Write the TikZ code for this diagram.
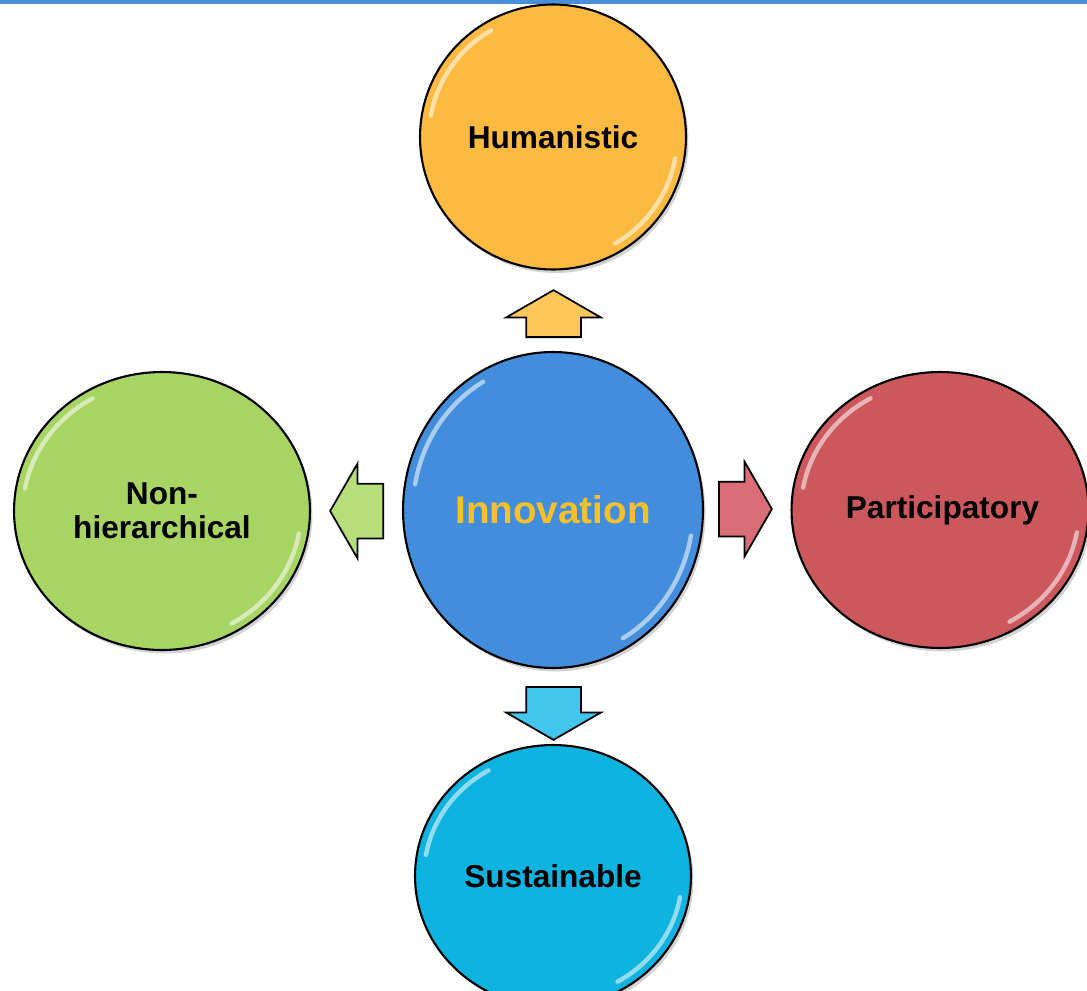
\documentclass[tikz,border=0pt]{standalone}
\usepackage{fontspec}
\setmainfont{Liberation Sans}
\usetikzlibrary{shapes.geometric,shapes.arrows,shadows}

\definecolor{topbar}{HTML}{4A90D9}
\definecolor{humancol}{HTML}{FDBA40}
\definecolor{innocol}{HTML}{428EDC}
\definecolor{nonhcol}{HTML}{A7D462}
\definecolor{partcol}{HTML}{CC575C}
\definecolor{sustcol}{HTML}{0EB3E0}
\definecolor{goldtext}{HTML}{F8C12C}
\definecolor{humarrow}{HTML}{FDC75C}
\definecolor{nonharrow}{HTML}{B8DE7B}
\definecolor{partarrow}{HTML}{D96E77}
\definecolor{sustarrow}{HTML}{43C6EC}

\tikzset{
  bubble/.style={ellipse, draw=black, line width=1.2pt, inner sep=0pt, align=center,
    font=\bfseries\fontsize{18}{19.5}\selectfont,
    drop shadow={opacity=0.35, shadow xshift=0.05cm, shadow yshift=-0.07cm}},
  blockarrow/.style={single arrow, draw=black, line width=1pt, inner xsep=0pt,
    inner ysep=0.53cm, single arrow head extend=0.4cm, single arrow tip angle=120,
    anchor=tail},
  glint/.style={white, line width=2.5pt, line cap=round, opacity=0.55},
  bigword/.style={font=\bfseries\fontsize{22}{24}\selectfont}
}

\begin{document}
\begin{tikzpicture}[x=0.02cm,y=-0.02cm]
  \useasboundingbox (0,0) rectangle (1087,990);
  \clip (0,0) rectangle (1087,990);

  %top bar
  \fill[topbar] (0,0) rectangle (1087,4);

  %circles
  \node[bubble, fill=humancol, minimum width=5.32cm, minimum height=5.3cm] (human) at (553,137) {Humanistic};
  \node[bubble, fill=nonhcol, minimum width=5.92cm, minimum height=5.56cm] (nonh) at (162,511) {Non-\\hierarchical};
  \node[bubble, fill=partcol, minimum width=5.94cm, minimum height=5.52cm] (part) at (940,510) {\hspace*{0.1cm}Participatory};
  \node[bubble, fill=sustcol, minimum width=5.52cm, minimum height=5.24cm] (sust) at (553,876) {Sustainable};
  \node[bubble, fill=innocol, minimum width=6cm, minimum height=6.32cm] (innov) at (553,510) {};

  %glossy rims
  \foreach \cx/\cy/\rx/\ry in {553/137/124/123, 553/510/140/148, 162/511/139/130, 940/510/139/129, 553/876/129/122} {
    \draw[glint] (\cx,\cy) ++(190:{\rx} and {\ry}) arc[start angle=190, end angle=240, x radius=\rx, y radius=\ry];
    \draw[glint] (\cx,\cy) ++(10:{\rx} and {\ry}) arc[start angle=10, end angle=60, x radius=\rx, y radius=\ry];
  }

  %centre word
  \node[bigword, text=goldtext] (innovtext) at (553,510) {Innovation};

  %arrows
  \node[blockarrow, fill=humarrow, rotate=90, minimum height=0.94cm] (toHuman) at (553.5,338) {};
  \node[blockarrow, fill=nonharrow, rotate=180, minimum height=1.06cm] (toNonh) at (384,511) {};
  \node[blockarrow, fill=partarrow, rotate=0, minimum height=1.06cm] (toPart) at (718,509) {};
  \node[blockarrow, fill=sustarrow, rotate=-90, minimum height=1.06cm] (toSust) at (553.5,686) {};
\end{tikzpicture}
\end{document}
